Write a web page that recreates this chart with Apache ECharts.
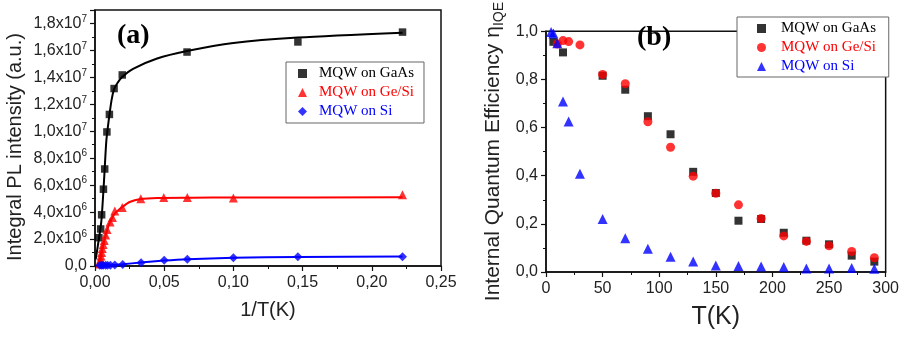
<!DOCTYPE html>
<html>
<head>
<meta charset="utf-8">
<script src="https://cdn.jsdelivr.net/npm/echarts@6/dist/echarts.min.js"></script>
<style>
  html, body { margin: 0; padding: 0; background: #fff; }
  #chart { width: 902px; height: 337px; }
</style>
</head>
<body>
<div id="chart"></div>
<script>
// ---- panel (a): integral PL intensity vs 1/T ----
const gaasA = [
  [0.0028, 2.1e6], [0.0041, 2.75e6], [0.0048, 3.8e6], [0.0061, 5.7e6], [0.0070, 7.2e6],
  [0.0086, 9.95e6], [0.0104, 1.125e7], [0.0138, 1.317e7], [0.0197, 1.418e7],
  [0.0665, 1.588e7], [0.1466, 1.663e7], [0.2222, 1.736e7]
];
const gaasFitA = [
  [0.0005, 0.5e6], [0.0022, 1.6e6], [0.0046, 3.35e6], [0.0065, 6.3e6], [0.0082, 9.3e6],
  [0.0099, 1.08e7], [0.0119, 1.228e7], [0.0137, 1.31e7], [0.0160, 1.355e7], [0.0196, 1.402e7],
  [0.0275, 1.463e7], [0.0444, 1.538e7], [0.0664, 1.595e7], [0.1000, 1.655e7], [0.1465, 1.695e7],
  [0.2222, 1.731e7]
];
const geSiA = [
  [0.0035, 0.15e6], [0.0037, 0.3e6], [0.0040, 0.5e6], [0.0043, 0.75e6], [0.0048, 1.0e6],
  [0.0053, 1.3e6], [0.0059, 1.6e6], [0.0067, 1.9e6], [0.0077, 2.3e6], [0.0087, 2.7e6],
  [0.0109, 3.27e6], [0.0126, 3.6e6], [0.0143, 4.09e6], [0.0197, 4.34e6], [0.0331, 4.99e6],
  [0.0497, 5.08e6], [0.0667, 5.08e6], [0.1000, 5.04e6], [0.2222, 5.28e6]
];
const geSiFitA = [
  [0.0015, 0], [0.0040, 0.6e6], [0.0060, 1.6e6], [0.0080, 2.4e6], [0.0100, 3.05e6],
  [0.0125, 3.6e6], [0.0150, 3.98e6], [0.0200, 4.4e6], [0.0250, 4.75e6], [0.0330, 4.97e6],
  [0.0450, 5.05e6], [0.0700, 5.07e6], [0.1000, 5.08e6], [0.2222, 5.1e6]
];
const siA = [
  [0.0035, 0.05e6], [0.0048, 0.05e6], [0.0059, 0.05e6], [0.0077, 0.05e6], [0.0091, 0.05e6],
  [0.0111, 0.06e6], [0.0143, 0.08e6], [0.0200, 0.12e6], [0.0333, 0.25e6], [0.0500, 0.42e6],
  [0.0667, 0.5e6], [0.1000, 0.62e6], [0.1466, 0.69e6], [0.2222, 0.69e6]
];
const siFitA = [
  [0.0010, 0.02e6], [0.0100, 0.05e6], [0.0200, 0.13e6], [0.0330, 0.26e6], [0.0500, 0.4e6],
  [0.0667, 0.5e6], [0.1000, 0.61e6], [0.1466, 0.67e6], [0.2222, 0.7e6]
];

// ---- panel (b): internal quantum efficiency vs T ----
const gaasB = [
  [6.5, 0.956], [15, 0.912], [50, 0.815], [70, 0.757], [90, 0.647], [110, 0.572], [130, 0.416],
  [150, 0.328], [170, 0.213], [190, 0.22], [210, 0.163], [230, 0.13], [250, 0.115], [270, 0.068],
  [290, 0.043]
];
const geSiB = [
  [10, 0.947], [15, 0.961], [20, 0.957], [30, 0.943], [50, 0.82], [70, 0.782], [90, 0.624],
  [110, 0.518], [130, 0.398], [150, 0.327], [170, 0.279], [190, 0.222], [210, 0.15], [230, 0.127],
  [250, 0.109], [270, 0.085], [290, 0.059]
];
const siB = [
  [4.5, 0.997], [6.5, 0.99], [10, 0.95], [15, 0.708], [20, 0.625], [30, 0.408], [50, 0.22],
  [70, 0.14], [90, 0.097], [110, 0.063], [130, 0.044], [150, 0.027], [170, 0.025], [190, 0.023],
  [210, 0.021], [230, 0.015], [250, 0.015], [270, 0.017], [290, 0.014]
];

const SANS = '"Liberation Sans", Arial, sans-serif';
const SERIF = '"Liberation Serif", "Times New Roman", serif';
const BLACK = '#000000';
const RED = '#ff0000';
const BLUE = '#0000ff';

const comma = (v, d) => v.toFixed(d).replace('.', ',');

// 1,8x10^7 style labels
function sciLabel(v) {
  if (v === 0) return '{m|0,0}';
  const e = Math.floor(Math.log10(v) + 1e-9);
  const m = v / Math.pow(10, e);
  return '{m|' + comma(m, 1) + 'x10}{s|' + e + '}';
}

const axisLineStyle = { show: true, lineStyle: { color: '#111', width: 1.5 } };
const tickStyle = { show: true, length: 5, lineStyle: { color: '#111', width: 1.2 } };
const minorStyle = { show: true, splitNumber: 2, length: 3, lineStyle: { color: '#111', width: 1 } };
const labelBase = { color: '#222', fontFamily: SANS, fontSize: 16 };

function legendFor(left, top, items, pad, textPad) {
  return {
    orient: 'vertical',
    left: left,
    top: top,
    padding: pad,
    itemGap: 4,
    itemWidth: 9,
    itemHeight: 9,
    borderColor: '#666',
    borderWidth: 1,
    backgroundColor: '#fff',
    textStyle: { fontFamily: SERIF, fontSize: 15, lineHeight: 15, padding: [0, 0, 0, textPad] },
    data: items
  };
}

const chart = echarts.init(document.getElementById('chart'), null, { renderer: 'canvas' });

chart.setOption({
  animation: false,
  backgroundColor: '#fff',
  grid: [
    { left: 95, right: 461, top: 10, bottom: 71, show: true, borderColor: '#111', borderWidth: 1.5 },
    { left: 546, right: 9, top: 14, bottom: 65, show: true, borderColor: '#111', borderWidth: 1.5 }
  ],
  xAxis: [
    {
      gridIndex: 0, type: 'value', min: 0, max: 0.25, interval: 0.05,
      name: '1/T(K)', nameLocation: 'middle', nameGap: 34,
      nameTextStyle: { fontFamily: SANS, fontSize: 20, color: '#222' },
      axisLine: axisLineStyle, axisTick: tickStyle, minorTick: minorStyle,
      splitLine: { show: false },
      axisLabel: Object.assign({}, labelBase, { margin: 9, formatter: v => comma(v, 2) })
    },
    {
      gridIndex: 1, type: 'value', min: 0, max: 300, interval: 50,
      name: 'T(K)', nameLocation: 'middle', nameGap: 33,
      nameTextStyle: { fontFamily: SANS, fontSize: 25, color: '#222' },
      axisLine: axisLineStyle, axisTick: tickStyle, minorTick: minorStyle,
      splitLine: { show: false },
      axisLabel: Object.assign({}, labelBase, { margin: 9, formatter: v => String(v) })
    }
  ],
  yAxis: [
    {
      gridIndex: 0, type: 'value', min: 0, max: 1.9e7, interval: 2e6,
      name: 'Integral PL intensity (a.u.)', nameLocation: 'middle', nameGap: 70, nameRotate: 90,
      nameTextStyle: { fontFamily: SANS, fontSize: 20, color: '#222', padding: [0, 18, 0, 0] },
      axisLine: axisLineStyle, axisTick: tickStyle, minorTick: minorStyle,
      splitLine: { show: false },
      axisLabel: {
        margin: 8, showMaxLabel: false,
        formatter: sciLabel,
        rich: {
          m: { color: '#222', fontFamily: SANS, fontSize: 16, lineHeight: 19 },
          s: { color: '#222', fontFamily: SANS, fontSize: 10, lineHeight: 10, verticalAlign: 'top' }
        }
      }
    },
    {
      gridIndex: 1, type: 'value', min: 0, max: 1, interval: 0.2,
      name: '{n|Internal Quantum Efficiency η}{s|IQE}', nameLocation: 'middle', nameGap: 40, nameRotate: 90,
      nameTextStyle: {
        rich: {
          n: { fontFamily: SANS, fontSize: 21, color: '#222', lineHeight: 26 },
          s: { fontFamily: SANS, fontSize: 14, color: '#222', lineHeight: 14, verticalAlign: 'bottom' }
        }
      },
      axisLine: axisLineStyle, axisTick: tickStyle, minorTick: minorStyle,
      splitLine: { show: false },
      axisLabel: Object.assign({}, labelBase, { margin: 8, formatter: v => comma(v, 1) })
    }
  ],
  legend: [
    legendFor(286, 62, [
      { name: 'MQW on GaAs', icon: 'rect', textStyle: { color: BLACK } },
      { name: 'MQW on Ge/Si', icon: 'triangle', textStyle: { color: RED } },
      { name: 'MQW on Si', icon: 'diamond', textStyle: { color: BLUE } }
    ], [4, 10, 4, 12], 7),
    legendFor(737, 17, [
      { name: 'MQW on GaAs ', icon: 'rect', textStyle: { color: BLACK } },
      { name: 'MQW on Ge/Si ', icon: 'circle', textStyle: { color: RED } },
      { name: 'MQW on Si ', icon: 'triangle', textStyle: { color: BLUE } }
    ], [4, 9, 3, 20], 10)
  ],
  graphic: [
    { type: 'text', left: 117, top: 22, style: { text: '(a)', font: 'bold 28px ' + SERIF, fill: '#000' } },
    { type: 'text', left: 637, top: 24, style: { text: '(b)', font: 'bold 28px ' + SERIF, fill: '#000' } }
  ],
  series: [
    // panel (a) fit curves
    { type: 'line', xAxisIndex: 0, yAxisIndex: 0, data: gaasFitA, showSymbol: false, smooth: 0.25,
      lineStyle: { color: BLACK, width: 2 }, silent: true, z: 2 },
    { type: 'line', xAxisIndex: 0, yAxisIndex: 0, data: geSiFitA, showSymbol: false, smooth: 0.25,
      lineStyle: { color: RED, width: 2 }, silent: true, z: 2 },
    { type: 'line', xAxisIndex: 0, yAxisIndex: 0, data: siFitA, showSymbol: false, smooth: 0.25,
      lineStyle: { color: BLUE, width: 2 }, silent: true, z: 2 },
    // panel (a) points
    { name: 'MQW on GaAs', type: 'scatter', xAxisIndex: 0, yAxisIndex: 0, data: gaasA,
      symbol: 'rect', symbolSize: 7.5, itemStyle: { color: BLACK }, z: 3 },
    { name: 'MQW on Ge/Si', type: 'scatter', xAxisIndex: 0, yAxisIndex: 0, data: geSiA,
      symbol: 'triangle', symbolSize: 9, itemStyle: { color: RED }, z: 3 },
    { name: 'MQW on Si', type: 'scatter', xAxisIndex: 0, yAxisIndex: 0, data: siA,
      symbol: 'diamond', symbolSize: 9, itemStyle: { color: BLUE }, z: 3 },
    // panel (b) points
    { name: 'MQW on GaAs ', type: 'scatter', xAxisIndex: 1, yAxisIndex: 1, data: gaasB,
      symbol: 'rect', symbolSize: 8, itemStyle: { color: BLACK }, z: 3 },
    { name: 'MQW on Ge/Si ', type: 'scatter', xAxisIndex: 1, yAxisIndex: 1, data: geSiB,
      symbol: 'circle', symbolSize: 9, itemStyle: { color: RED }, z: 3 },
    { name: 'MQW on Si ', type: 'scatter', xAxisIndex: 1, yAxisIndex: 1, data: siB,
      symbol: 'triangle', symbolSize: 10, itemStyle: { color: BLUE }, z: 3 }
  ]
});
</script>
</body>
</html>
